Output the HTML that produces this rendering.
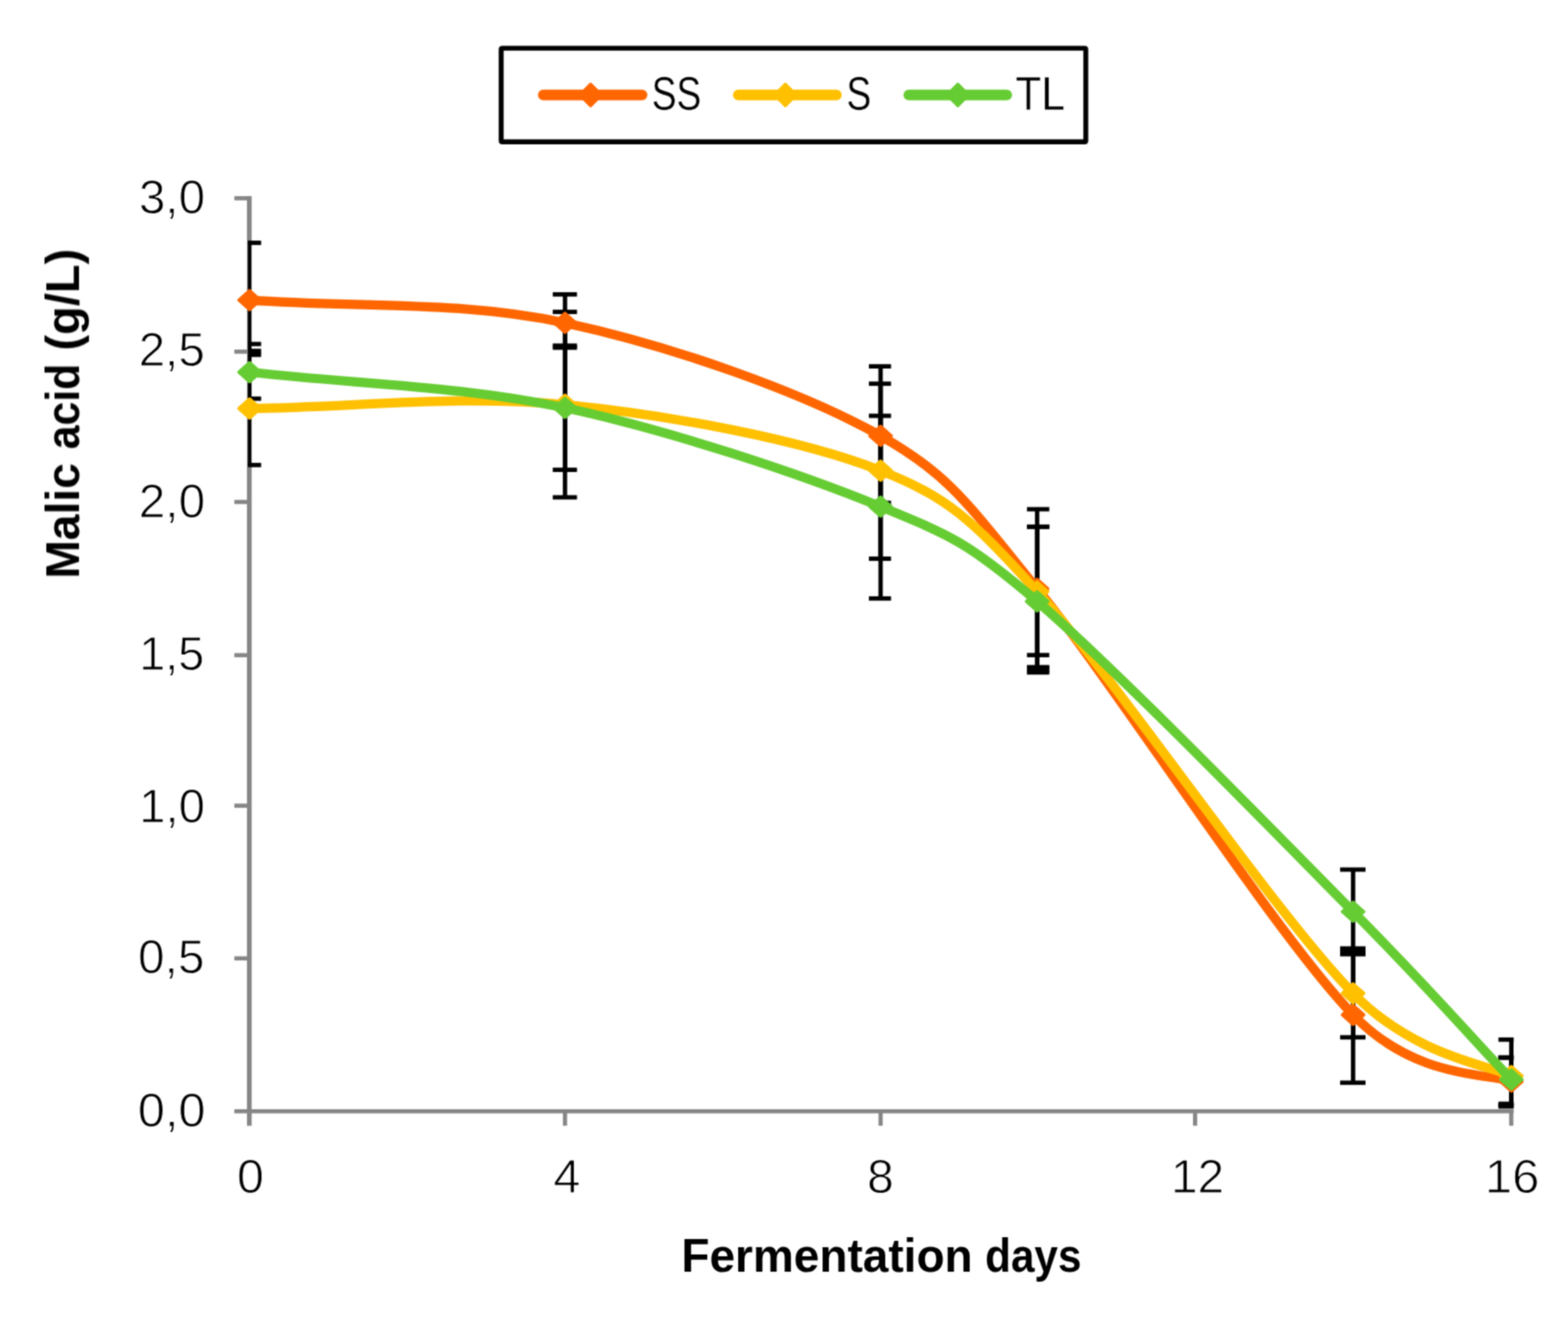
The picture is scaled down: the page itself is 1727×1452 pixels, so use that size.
<!DOCTYPE html>
<html lang="en"><head><meta charset="utf-8"><title>Malic acid during fermentation</title>
<style>html,body{margin:0;padding:0;background:#fff;}body{width:1727px;height:1452px;overflow:hidden;}svg{display:block;}text{font-family:"Liberation Sans",sans-serif;fill:#000;}</style></head><body>
<svg width="1727" height="1452" viewBox="0 0 1727 1452" role="img" aria-label="Malic acid (g/L) over fermentation days for SS, S and TL">
<rect x="0" y="0" width="1727" height="1452" fill="#fff"/>
<defs><filter id="soft" x="0" y="0" width="1727" height="1452" filterUnits="userSpaceOnUse" color-interpolation-filters="sRGB"><feConvolveMatrix order="3" kernelMatrix="0.0484 0.1232 0.0484 0.1232 0.3136 0.1232 0.0484 0.1232 0.0484" divisor="1" edgeMode="duplicate" preserveAlpha="false"/></filter>
<clipPath id="plot"><rect x="273.0" y="0" width="1394.2" height="1222.0"/></clipPath></defs>
<g filter="url(#soft)">
<rect x="552.00" y="53.10" width="643.90" height="103.10" rx="1.2" fill="#fff" stroke="#000" stroke-width="5.40"/>
<line x1="598.3" y1="104.6" x2="707.2" y2="104.6" stroke="#FF6600" stroke-width="11.6" stroke-linecap="round"/>
<path d="M638.6,104.6 L650.5,92.7 L662.4,104.6 L650.5,116.5 Z" fill="#FF6600" stroke="#FF6600" stroke-width="3.2" stroke-linejoin="round"/>
<line x1="813.1" y1="104.6" x2="921.3" y2="104.6" stroke="#FFC000" stroke-width="11.6" stroke-linecap="round"/>
<path d="M853.1,104.6 L865.0,92.7 L876.9,104.6 L865.0,116.5 Z" fill="#FFC000" stroke="#FFC000" stroke-width="3.2" stroke-linejoin="round"/>
<line x1="1000.9" y1="104.6" x2="1108.9" y2="104.6" stroke="#66CC33" stroke-width="11.6" stroke-linecap="round"/>
<path d="M1043.1,104.6 L1055.0,92.7 L1066.9,104.6 L1055.0,116.5 Z" fill="#66CC33" stroke="#66CC33" stroke-width="3.2" stroke-linejoin="round"/>
<text x="0" y="0" font-size="51.3" stroke="#fff" stroke-width="0.35" transform="translate(717.65,120.90) scale(0.8001,1)">SS</text>
<text x="0" y="0" font-size="51.3" stroke="#fff" stroke-width="0.35" transform="translate(932.35,120.90) scale(0.8001,1)">S</text>
<text x="0" y="0" font-size="51.3" stroke="#fff" stroke-width="0.35" transform="translate(1118.54,120.90) scale(0.9079,1)">TL</text>
<g stroke="#868686" stroke-width="4.6" fill="none">
<path d="M274.6,216.1 V1240.2" stroke-width="5.2"/>
<path d="M258.1,1224.2 H1667.2"/>
<path d="M258.1,1055.8 H274.6"/>
<path d="M258.1,887.6 H274.6"/>
<path d="M258.1,721.8 H274.6"/>
<path d="M258.1,553.0 H274.6"/>
<path d="M258.1,387.4 H274.6"/>
<path d="M258.1,218.4 H274.6"/>
<path d="M622.3,1224.2 V1240.2"/>
<path d="M969.9,1224.2 V1240.2"/>
<path d="M1316.3,1224.2 V1240.2"/>
<path d="M1664.5,1224.2 V1240.2"/>
</g>
<g clip-path="url(#plot)" fill="#000">
<rect x="273.10" y="267.50" width="3.70" height="123.40"/>
<rect x="262.00" y="265.10" width="25.60" height="4.80"/>
<rect x="262.00" y="388.50" width="25.60" height="4.80"/>
<rect x="619.90" y="324.30" width="4.80" height="58.70"/>
<rect x="608.80" y="321.90" width="26.70" height="4.80"/>
<rect x="608.80" y="380.60" width="26.70" height="4.80"/>
<rect x="967.50" y="403.60" width="4.80" height="150.40"/>
<rect x="957.00" y="401.20" width="24.40" height="4.80"/>
<rect x="957.00" y="551.60" width="24.40" height="4.80"/>
<rect x="1139.90" y="561.00" width="4.80" height="174.00"/>
<rect x="1131.10" y="558.60" width="24.60" height="4.80"/>
<rect x="1131.10" y="732.60" width="24.60" height="4.80"/>
<rect x="1487.90" y="1044.90" width="4.80" height="147.90"/>
<rect x="1476.00" y="1042.50" width="28.00" height="4.80"/>
<rect x="1476.00" y="1190.40" width="28.00" height="4.80"/>
<rect x="1662.20" y="1165.10" width="4.80" height="52.40"/>
<rect x="1650.40" y="1162.70" width="29.60" height="4.80"/>
<rect x="1650.40" y="1215.10" width="29.60" height="4.80"/>
<rect x="273.10" y="386.60" width="3.70" height="125.70"/>
<rect x="262.00" y="384.20" width="25.60" height="4.80"/>
<rect x="262.00" y="509.90" width="25.60" height="4.80"/>
<rect x="619.90" y="343.60" width="4.80" height="204.30"/>
<rect x="608.80" y="341.20" width="26.70" height="4.80"/>
<rect x="608.80" y="545.50" width="26.70" height="4.80"/>
<rect x="967.50" y="422.70" width="4.80" height="192.80"/>
<rect x="957.00" y="420.30" width="24.40" height="4.80"/>
<rect x="957.00" y="613.10" width="24.40" height="4.80"/>
<rect x="1139.90" y="580.30" width="4.80" height="141.40"/>
<rect x="1131.10" y="577.90" width="24.60" height="4.80"/>
<rect x="1131.10" y="719.30" width="24.60" height="4.80"/>
<rect x="1487.90" y="1047.50" width="4.80" height="95.30"/>
<rect x="1476.00" y="1045.10" width="28.00" height="4.80"/>
<rect x="1476.00" y="1140.40" width="28.00" height="4.80"/>
<rect x="1662.20" y="1145.30" width="4.80" height="73.70"/>
<rect x="1650.40" y="1142.90" width="29.60" height="4.80"/>
<rect x="1650.40" y="1216.60" width="29.60" height="4.80"/>
<rect x="273.10" y="379.00" width="3.70" height="60.20"/>
<rect x="262.00" y="376.60" width="25.60" height="4.80"/>
<rect x="262.00" y="436.80" width="25.60" height="4.80"/>
<rect x="619.90" y="380.80" width="4.80" height="136.80"/>
<rect x="608.80" y="378.40" width="26.70" height="4.80"/>
<rect x="608.80" y="515.20" width="26.70" height="4.80"/>
<rect x="967.50" y="458.10" width="4.80" height="201.20"/>
<rect x="957.00" y="455.70" width="24.40" height="4.80"/>
<rect x="957.00" y="656.90" width="24.40" height="4.80"/>
<rect x="1139.90" y="580.30" width="4.80" height="160.50"/>
<rect x="1131.10" y="577.90" width="24.60" height="4.80"/>
<rect x="1131.10" y="738.40" width="24.60" height="4.80"/>
<rect x="1487.90" y="958.00" width="4.80" height="93.20"/>
<rect x="1476.00" y="955.60" width="28.00" height="4.80"/>
<rect x="1476.00" y="1048.80" width="28.00" height="4.80"/>
<rect x="1662.20" y="1165.10" width="4.80" height="50.90"/>
<rect x="1650.40" y="1162.70" width="29.60" height="4.80"/>
<rect x="1650.40" y="1213.60" width="29.60" height="4.80"/>
<rect x="1131.10" y="734.00" width="24.60" height="7.00"/>
</g>
<path d="M274.95,330.60 C390.73,338.97 506.47,330.77 622.30,355.70 C738.12,380.63 883.23,431.38 969.90,480.20 C1046.02,523.08 1066.12,555.24 1142.30,648.60 C1229.03,754.90 1403.25,1027.52 1490.30,1118.00 C1559.77,1190.21 1642.71,1182.27 1664.60,1191.50" fill="none" stroke="#FF6600" stroke-width="10.3" stroke-linecap="round" stroke-linejoin="round"/>
<path d="M262.9,330.6 L274.9,319.9 L286.9,330.6 L274.9,341.3 Z" fill="#FF6600" stroke="#FF6600" stroke-width="3.2" stroke-linejoin="round"/>
<path d="M610.3,355.7 L622.3,345.0 L634.3,355.7 L622.3,366.4 Z" fill="#FF6600" stroke="#FF6600" stroke-width="3.2" stroke-linejoin="round"/>
<path d="M957.9,480.2 L969.9,469.5 L981.9,480.2 L969.9,490.9 Z" fill="#FF6600" stroke="#FF6600" stroke-width="3.2" stroke-linejoin="round"/>
<path d="M1130.3,648.6 L1142.3,637.9 L1154.3,648.6 L1142.3,659.3 Z" fill="#FF6600" stroke="#FF6600" stroke-width="3.2" stroke-linejoin="round"/>
<path d="M1478.3,1118.0 L1490.3,1107.3 L1502.3,1118.0 L1490.3,1128.7 Z" fill="#FF6600" stroke="#FF6600" stroke-width="3.2" stroke-linejoin="round"/>
<path d="M1652.6,1191.5 L1664.6,1180.8 L1676.6,1191.5 L1664.6,1202.2 Z" fill="#FF6600" stroke="#FF6600" stroke-width="3.2" stroke-linejoin="round"/>
<path d="M274.95,450.00 C390.73,448.63 506.47,434.48 622.30,445.90 C738.12,457.32 883.23,484.22 969.90,518.50 C1042.86,547.36 1069.28,570.81 1142.30,651.60 C1229.03,747.57 1403.25,1005.32 1490.30,1094.30 C1559.08,1164.61 1641.65,1173.49 1664.60,1185.50" fill="none" stroke="#FFC000" stroke-width="10.3" stroke-linecap="round" stroke-linejoin="round"/>
<path d="M262.9,450.0 L274.9,439.3 L286.9,450.0 L274.9,460.7 Z" fill="#FFC000" stroke="#FFC000" stroke-width="3.2" stroke-linejoin="round"/>
<path d="M610.3,445.9 L622.3,435.2 L634.3,445.9 L622.3,456.6 Z" fill="#FFC000" stroke="#FFC000" stroke-width="3.2" stroke-linejoin="round"/>
<path d="M957.9,518.5 L969.9,507.8 L981.9,518.5 L969.9,529.2 Z" fill="#FFC000" stroke="#FFC000" stroke-width="3.2" stroke-linejoin="round"/>
<path d="M1130.3,651.6 L1142.3,640.9 L1154.3,651.6 L1142.3,662.3 Z" fill="#FFC000" stroke="#FFC000" stroke-width="3.2" stroke-linejoin="round"/>
<path d="M1478.3,1094.3 L1490.3,1083.6 L1502.3,1094.3 L1490.3,1105.0 Z" fill="#FFC000" stroke="#FFC000" stroke-width="3.2" stroke-linejoin="round"/>
<path d="M1652.6,1185.5 L1664.6,1174.8 L1676.6,1185.5 L1664.6,1196.2 Z" fill="#FFC000" stroke="#FFC000" stroke-width="3.2" stroke-linejoin="round"/>
<path d="M274.95,410.00 C390.73,423.10 506.47,424.60 622.30,449.30 C738.12,474.00 883.23,522.67 969.90,558.20 C1046.32,589.53 1065.82,596.92 1142.30,662.50 C1229.03,736.87 1403.25,916.58 1490.30,1004.40 C1577.35,1092.22 1606.50,1127.73 1664.60,1189.40" fill="none" stroke="#66CC33" stroke-width="10.3" stroke-linecap="round" stroke-linejoin="round"/>
<path d="M262.9,410.0 L274.9,399.3 L286.9,410.0 L274.9,420.7 Z" fill="#66CC33" stroke="#66CC33" stroke-width="3.2" stroke-linejoin="round"/>
<path d="M610.3,449.3 L622.3,438.6 L634.3,449.3 L622.3,460.0 Z" fill="#66CC33" stroke="#66CC33" stroke-width="3.2" stroke-linejoin="round"/>
<path d="M957.9,558.2 L969.9,547.5 L981.9,558.2 L969.9,568.9 Z" fill="#66CC33" stroke="#66CC33" stroke-width="3.2" stroke-linejoin="round"/>
<path d="M1130.3,662.5 L1142.3,651.8 L1154.3,662.5 L1142.3,673.2 Z" fill="#66CC33" stroke="#66CC33" stroke-width="3.2" stroke-linejoin="round"/>
<path d="M1478.3,1004.4 L1490.3,993.7 L1502.3,1004.4 L1490.3,1015.1 Z" fill="#66CC33" stroke="#66CC33" stroke-width="3.2" stroke-linejoin="round"/>
<path d="M1652.6,1189.4 L1664.6,1178.7 L1676.6,1189.4 L1664.6,1200.1 Z" fill="#66CC33" stroke="#66CC33" stroke-width="3.2" stroke-linejoin="round"/>
<text x="0" y="0" font-size="51.3" stroke="#fff" stroke-width="0.90" transform="translate(151.85,1240.90) scale(1.0461,1)">0,0</text>
<text x="0" y="0" font-size="51.3" stroke="#fff" stroke-width="0.90" transform="translate(152.10,1072.30) scale(1.0238,1)">0,5</text>
<text x="0" y="0" font-size="51.3" stroke="#fff" stroke-width="0.90" transform="translate(153.28,905.90) scale(1.0182,1)">1,0</text>
<text x="0" y="0" font-size="51.3" stroke="#fff" stroke-width="0.90" transform="translate(153.33,737.60) scale(1.0060,1)">1,5</text>
<text x="0" y="0" font-size="51.3" stroke="#fff" stroke-width="0.90" transform="translate(152.77,569.60) scale(1.0256,1)">2,0</text>
<text x="0" y="0" font-size="51.3" stroke="#fff" stroke-width="0.90" transform="translate(152.78,403.40) scale(1.0196,1)">2,5</text>
<text x="0" y="0" font-size="51.3" stroke="#fff" stroke-width="0.90" transform="translate(152.90,235.20) scale(1.0238,1)">3,0</text>
<text x="0" y="0" font-size="51.3" stroke="#fff" stroke-width="0.90" transform="translate(261.06,1314.00) scale(1.0424,1)">0</text>
<text x="0" y="0" font-size="51.3" stroke="#fff" stroke-width="0.90" transform="translate(609.46,1314.00) scale(1.0448,1)">4</text>
<text x="0" y="0" font-size="51.3" stroke="#fff" stroke-width="0.90" transform="translate(954.92,1314.00) scale(1.0327,1)">8</text>
<text x="0" y="0" font-size="51.3" stroke="#fff" stroke-width="0.90" transform="translate(1289.66,1314.00) scale(1.0251,1)">12</text>
<text x="0" y="0" font-size="51.3" stroke="#fff" stroke-width="0.90" transform="translate(1635.45,1314.00) scale(1.0520,1)">16</text>
<text y="0" font-size="52" font-weight="bold" transform="translate(0.00,1400.80)"><tspan x="750.51" textLength="320.78" lengthAdjust="spacingAndGlyphs">Fermentation</tspan> <tspan x="1085.04" textLength="106.09" lengthAdjust="spacingAndGlyphs">days</tspan></text>
<text y="0" font-size="52" font-weight="bold" transform="translate(87.00,634.50) rotate(-90)"><tspan x="-3.11" textLength="127.49" lengthAdjust="spacingAndGlyphs">Malic</tspan> <tspan x="139.48" textLength="94.43" lengthAdjust="spacingAndGlyphs">acid</tspan> <tspan x="248.31" textLength="112.11" lengthAdjust="spacingAndGlyphs">(g/L)</tspan></text>
</g>
</svg></body></html>
